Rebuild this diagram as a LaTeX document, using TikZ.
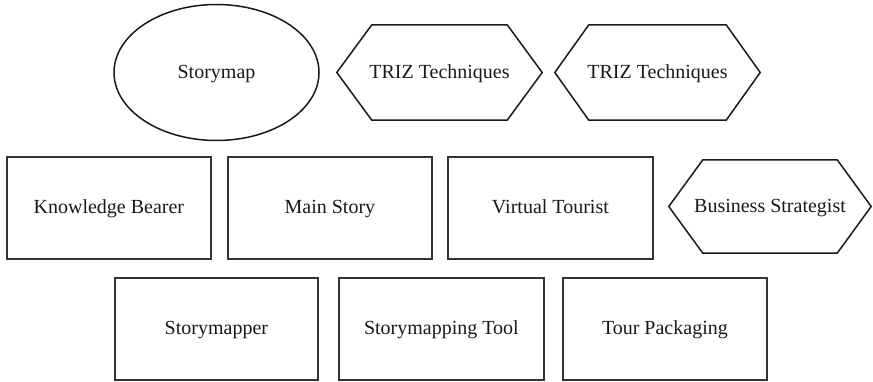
\documentclass[tikz,border=0pt]{standalone}
\usepackage{fontspec}
\setmainfont{Liberation Serif}
\usetikzlibrary{shapes.geometric,calc}
\newcommand\hexof[2]{\draw[hexline] (#1.west) -- ([xshift=#2]#1.north west) -- ([xshift=-#2]#1.north east) -- (#1.east) -- ([xshift=-#2]#1.south east) -- ([xshift=#2]#1.south west) -- cycle;}
\begin{document}
\begin{tikzpicture}[x=1pt,y=-1pt,
  lbl/.style={font=\fontsize{20}{24}\selectfont, text=black!90, inner sep=0pt, text height=15pt, text depth=3pt},
  box/.style={lbl, draw=black!80, line width=1.8pt, rectangle, minimum height=102pt, anchor=north west},
  oval/.style={lbl, draw=black!90, line width=1.5pt, ellipse},
  hexbox/.style={lbl, rectangle, draw=none},
  hexline/.style={draw=black!90, line width=1.5pt, line join=miter}]
\useasboundingbox (0,0) rectangle (873,382);
% top row
\node[oval, minimum width=205pt, minimum height=136pt] (storymap) at (216.5,72.5) {Storymap};
\node[hexbox, minimum width=205pt, minimum height=95pt] (triz1) at (439.5,72.5) {TRIZ Techniques};
\hexof{triz1}{35pt}
\node[hexbox, minimum width=205pt, minimum height=95pt] (triz2) at (657.5,72.5) {TRIZ Techniques};
\hexof{triz2}{34pt}
% middle row
\node[box, minimum width=204pt] (kb) at (6,156) {Knowledge Bearer};
\node[box, minimum width=204pt] (ms) at (227,156) {Main Story};
\node[box, minimum width=205pt] (vt) at (447,156) {Virtual Tourist};
\node[hexbox, minimum width=202pt, minimum height=93pt] (bs) at (770,206.5) {Business Strategist};
\hexof{bs}{34pt}
% bottom row
\node[box, minimum width=203pt] (sm) at (114,277) {Storymapper};
\node[box, minimum width=205pt] (st) at (338,277) {Storymapping Tool};
\node[box, minimum width=204pt] (tp) at (562,277) {Tour Packaging};
\end{tikzpicture}
\end{document}
